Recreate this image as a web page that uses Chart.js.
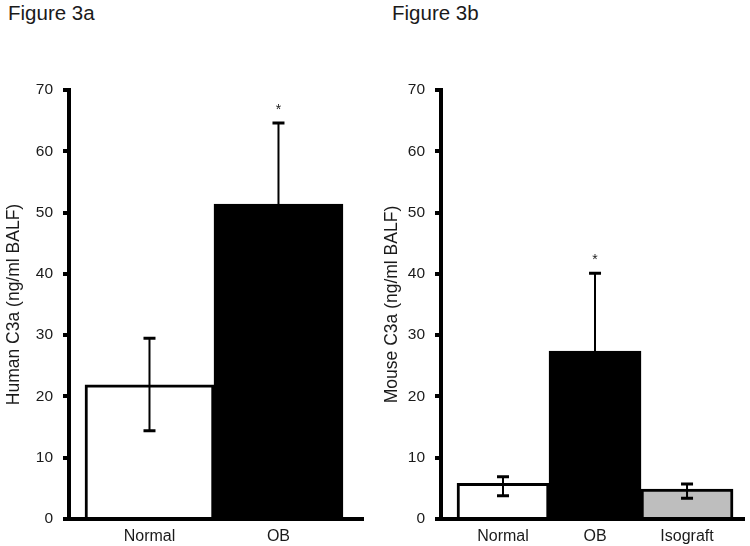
<!DOCTYPE html>
<html>
<head>
<meta charset="utf-8">
<script src="https://cdn.jsdelivr.net/npm/chart.js@4"></script>
<style>
  html, body { margin: 0; padding: 0; background: #fff; }
  body { width: 750px; height: 546px; position: relative; overflow: hidden; font-family: "Liberation Sans", Arial, sans-serif; }
  .fig { position: absolute; top: 3px; font-size: 20.5px; line-height: 20px; color: #1a1a1a; }
  .wrap { position: absolute; top: 0; width: 375px; height: 546px; }
</style>
</head>
<body>
<div class="fig" style="left:8px;">Figure 3a</div>
<div class="fig" style="left:392px;">Figure 3b</div>
<div class="wrap" style="left:0;"><canvas id="c1"></canvas></div>
<div class="wrap" style="left:375px;"><canvas id="c2"></canvas></div>
<script>
// ---- Figure 3a data ----
const categoriesA = ['Normal', 'OB'];
const valuesA = [21.9, 51.4];
const errLowA = [14.4, 38.2];
const errHighA = [29.5, 64.6];
const sigA = [false, true];
const colorsA = ['#ffffff', '#000000'];

// ---- Figure 3b data ----
const categoriesB = ['Normal', 'OB', 'Isograft'];
const valuesB = [5.8, 27.4, 4.9];
const errLowB = [3.8, 14.7, 3.4];
const errHighB = [6.9, 40.1, 5.7];
const sigB = [false, true, false];
const colorsB = ['#ffffff', '#000000', '#bebebe'];

const yTickValues = [0, 10, 20, 30, 40, 50, 60, 70];

const FONT = '"Liberation Sans", Arial, sans-serif';
const TXT = '#1a1a1a';

function errPlugin(low, high, sig) {
  return {
    id: 'errbars',
    afterDatasetsDraw(chart) {
      const ctx = chart.ctx;
      const xs = chart.scales.x, ys = chart.scales.y;
      ctx.save();
      ctx.strokeStyle = '#000';
      for (let i = 0; i < low.length; i++) {
        const x = xs.getPixelForValue(i);
        const yH = ys.getPixelForValue(high[i]);
        const yL = ys.getPixelForValue(low[i]);
        ctx.lineWidth = 2;
        ctx.beginPath(); ctx.moveTo(x, yH); ctx.lineTo(x, yL); ctx.stroke();
        ctx.lineWidth = 3;
        ctx.beginPath();
        ctx.moveTo(x - 6, yH); ctx.lineTo(x + 6, yH);
        ctx.moveTo(x - 6, yL); ctx.lineTo(x + 6, yL);
        ctx.stroke();
        if (sig[i]) {
          ctx.fillStyle = TXT;
          ctx.font = '14px ' + FONT;
          ctx.textAlign = 'center';
          ctx.textBaseline = 'alphabetic';
          ctx.fillText('*', x, yH - 9);
        }
      }
      ctx.restore();
    }
  };
}

function makeChart(id, cats, vals, colors, low, high, sig, cfg) {
  return new Chart(document.getElementById(id), {
    type: 'bar',
    data: {
      datasets: [{
        data: vals.map((v, i) => ({ x: i, y: v })),
        backgroundColor: colors,
        borderColor: '#000',
        borderWidth: 3,
        barPercentage: 1,
        categoryPercentage: 1
      }]
    },
    options: {
      responsive: true,
      maintainAspectRatio: false,
      animation: false,
      events: [],
      layout: { padding: { top: 90, right: cfg.padRight, bottom: 0, left: 0 } },
      plugins: { legend: { display: false }, tooltip: { enabled: false } },
      scales: {
        x: {
          type: 'linear',
          offset: false,
          min: cfg.xMin,
          max: cfg.xMax,
          afterBuildTicks: s => { s.ticks = cats.map((c, i) => ({ value: i })); },
          afterFit: s => { s.height = 27; },
          grid: { offset: false, drawOnChartArea: false, drawTicks: false, lineWidth: 0 },
          border: { display: true, color: '#000', width: 4, z: 1 },
          ticks: {
            autoSkip: false, maxRotation: 0, padding: 8,
            color: TXT, font: { family: FONT, size: 16 },
            callback: v => cats[v] ?? ''
          }
        },
        y: {
          min: 0, max: 70,
          afterBuildTicks: s => { s.ticks = yTickValues.map(v => ({ value: v })); },
          afterFit: s => { s.width = cfg.yWidth; },
          grid: { drawOnChartArea: false, drawTicks: true, tickLength: 6, tickWidth: 4, tickColor: '#000', lineWidth: 4, color: '#000' },
          border: { display: true, color: '#000', width: 4, z: 1 },
          ticks: { padding: 10, color: TXT, font: { family: FONT, size: 15.5 } },
          title: {
            display: true, text: cfg.yTitle, color: TXT,
            font: { family: FONT, size: 17.5 },
            padding: { top: cfg.titlePad, bottom: 0 }
          }
        }
      }
    },
    plugins: [errPlugin(low, high, sig)]
  });
}

makeChart('c1', categoriesA, valuesA, colorsA, errLowA, errHighA, sigA, {
  padRight: 11, yWidth: 69, xMin: -0.624, xMax: 1.663,
  yTitle: 'Human C3a (ng/ml BALF)', titlePad: 4
});
makeChart('c2', categoriesB, valuesB, colorsB, errLowB, errHighB, sigB, {
  padRight: 5, yWidth: 66, xMin: -0.674, xMax: 2.63,
  yTitle: 'Mouse C3a (ng/ml BALF)', titlePad: 7
});
</script>
</body>
</html>
